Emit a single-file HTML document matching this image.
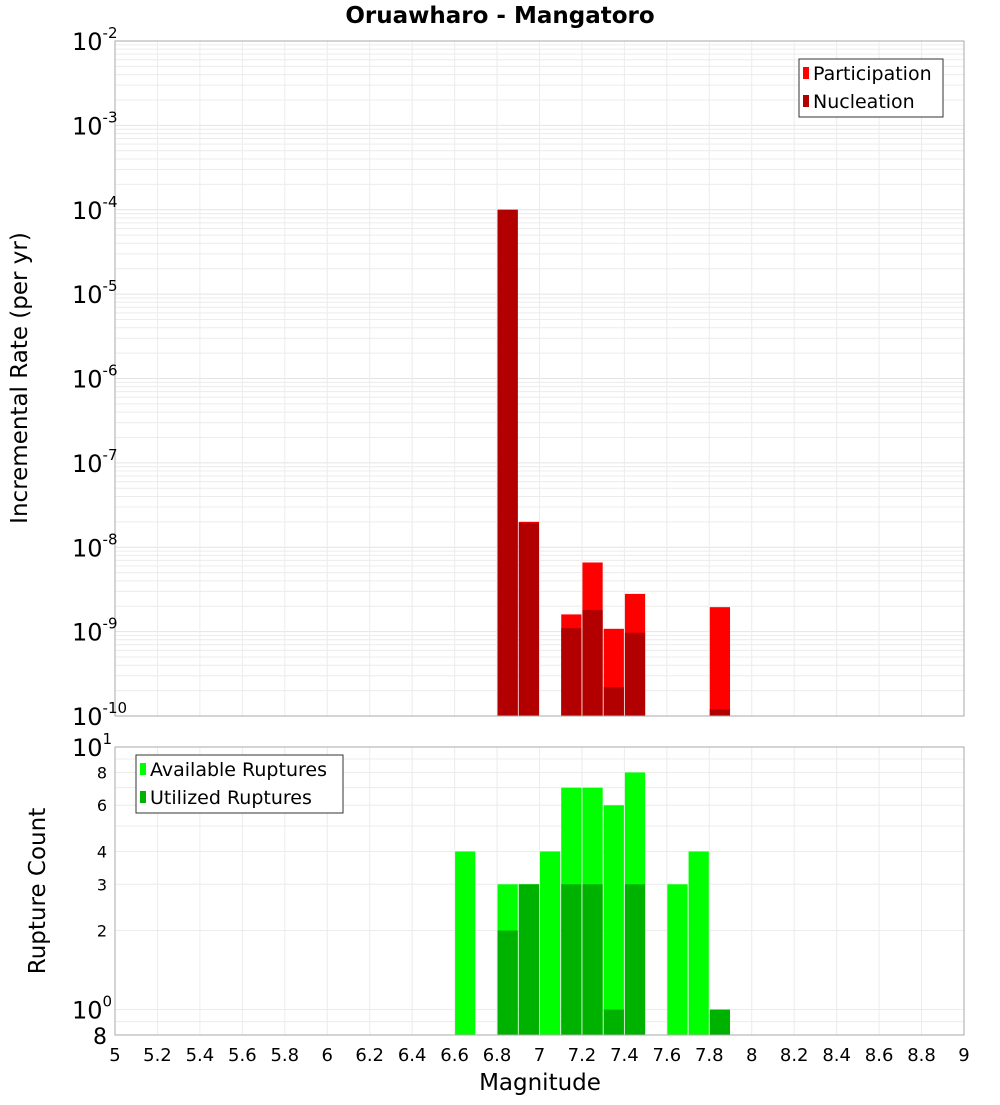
<!DOCTYPE html>
<html><head><meta charset="utf-8"><style>
body{margin:0;background:#fff;width:1000px;height:1100px;overflow:hidden}
svg text{font-family:"DejaVu Sans","Liberation Sans",sans-serif}
</style></head><body>
<svg id="c" width="1000" height="1100" xmlns="http://www.w3.org/2000/svg"></svg>
<script>
const mags=[6.65,6.85,6.95,7.05,7.15,7.25,7.35,7.45,7.65,7.75,7.85];
const participation=[0,1e-4,2.0e-8,0,1.6e-9,6.6e-9,1.08e-9,2.8e-9,0,0,1.95e-9];
const nucleation=[0,1e-4,1.95e-8,0,1.1e-9,1.8e-9,2.2e-10,9.7e-10,0,0,1.2e-10];
const available=[4,3,3,4,7,7,6,8,3,4,0];
const utilized=[0,2,3,0,3,3,1,3,0,0,1];
const xTicks=[5,5.2,5.4,5.6,5.8,6,6.2,6.4,6.6,6.8,7,7.2,7.4,7.6,7.8,8,8.2,8.4,8.6,8.8,9];
const topExps=[-2,-3,-4,-5,-6,-7,-8,-9,-10];
const botTicks=[2,3,4,6,8];

const svg=document.getElementById('c');
const NS='http://www.w3.org/2000/svg';
function mk(tag,attrs,parent){const e=document.createElementNS(NS,tag);for(const k in attrs)e.setAttribute(k,attrs[k]);(parent||svg).appendChild(e);return e;}
const X0=115,X1=964;
const xs=m=>X0+(m-5)/4*(X1-X0);
const T0=41,T1=716;
const yT=v=>T1-(Math.log10(v)+10)/8*(T1-T0);
const B0=747,B1=1035,bmin=Math.log10(0.8);
const yB=v=>B1-(Math.log10(v)-bmin)/(1-bmin)*(B1-B0);

let t=mk('text',{x:500,y:23,'text-anchor':'middle','font-size':23,'font-weight':'bold'});
t.textContent='Oruawharo - Mangatoro';



const gTop=mk('g',{});


for(let e=-10;e<-2;e++)for(let k=1;k<10;k++){const y=yT(k*Math.pow(10,e));mk('line',{x1:X0,x2:X1,y1:y,y2:y,stroke:k==1?'#e4e4e4':'#ececec','stroke-width':1},gTop);}
const gBot=mk('g',{});


[0.8,0.9,1,2,3,4,5,6,7,8,9].forEach(v=>{const y=yB(v);mk('line',{x1:X0,x2:X1,y1:y,y2:y,stroke:'#ececec'},gBot);});
xTicks.forEach(m=>{const x=xs(m);mk('line',{x1:x,x2:x,y1:T0,y2:T1,stroke:'#ececec'},gTop);mk('line',{x1:x,x2:x,y1:B0,y2:B1,stroke:'#ececec'},gBot);});

const bw=(X1-X0)/40;
mags.forEach((m,i)=>{
  const x=xs(m)-bw/2+0.5;
  if(participation[i]>0){const y=yT(participation[i]);const r=mk('rect',{x:x,y:y,width:bw-1,height:T1-y,fill:'#ff0000'});
    }
  if(nucleation[i]>0){const y=yT(nucleation[i]);const r=mk('rect',{x:x,y:y,width:bw-1,height:T1-y,fill:'#b20000'});
    }
  if(available[i]>0){const y=yB(available[i]);const r=mk('rect',{x:x,y:y,width:bw-1,height:B1-y,fill:'#00ff00'});
    }
  if(utilized[i]>0){const y=yB(utilized[i]);const r=mk('rect',{x:x,y:y,width:bw-1,height:B1-y,fill:'#00b200'});
    }
});

let f=mk('rect',{x:X0,y:T0,width:X1-X0,height:T1-T0,fill:'none',stroke:'#aaa'});

f=mk('rect',{x:X0,y:B0,width:X1-X0,height:B1-B0,fill:'none',stroke:'#aaa'});


topExps.forEach(e=>{const y=yT(Math.pow(10,e));
  const tx=mk('text',{x:72,y:y+9,'font-size':24});
  tx.innerHTML='10<tspan dy="-12" font-size="15">'+e+'</tspan>';
  });
let tx=mk('text',{x:72,y:yB(10)+9,'font-size':24});tx.innerHTML='10<tspan dy="-12" font-size="15">1</tspan>';

tx=mk('text',{x:72,y:yB(1)+9,'font-size':24});tx.innerHTML='10<tspan dy="-12" font-size="15">0</tspan>';

tx=mk('text',{x:107,y:B1+9,'font-size':22,'text-anchor':'end'});tx.textContent='8';

botTicks.forEach(v=>{const y=yB(v);const tt=mk('text',{x:107,y:y+6,'font-size':16,'text-anchor':'end'});tt.textContent=v;
  });
xTicks.forEach(m=>{const tt=mk('text',{x:xs(m),y:1061,'font-size':18,'text-anchor':'middle'});tt.textContent=String(m);
  });
tx=mk('text',{x:540,y:1090,'font-size':23,'text-anchor':'middle'});tx.textContent='Magnitude';

tx=mk('text',{x:0,y:0,'font-size':23,'text-anchor':'middle',transform:'translate(27,378) rotate(-90)'});tx.textContent='Incremental Rate (per yr)';

tx=mk('text',{x:0,y:0,'font-size':23,'text-anchor':'middle',transform:'translate(45,891) rotate(-90)'});tx.textContent='Rupture Count';


function legend(x,y,w,items,name){
  const g=mk('g',{});
  mk('rect',{x:x,y:y,width:w,height:58,fill:'#fff',stroke:'#333'},g);
  items.forEach((it,i)=>{mk('rect',{x:x+4,y:y+8+i*28,width:6,height:12,fill:it[1]},g);
    const tt=mk('text',{x:x+14,y:y+21+i*28,'font-size':19},g);tt.textContent=it[0];});
}
legend(799,59,144,[['Participation','#ff0000'],['Nucleation','#b20000']],'top-legend');
legend(136,755,207,[['Available Ruptures','#00ff00'],['Utilized Ruptures','#00b200']],'bottom-legend');
</script>
</body></html>
